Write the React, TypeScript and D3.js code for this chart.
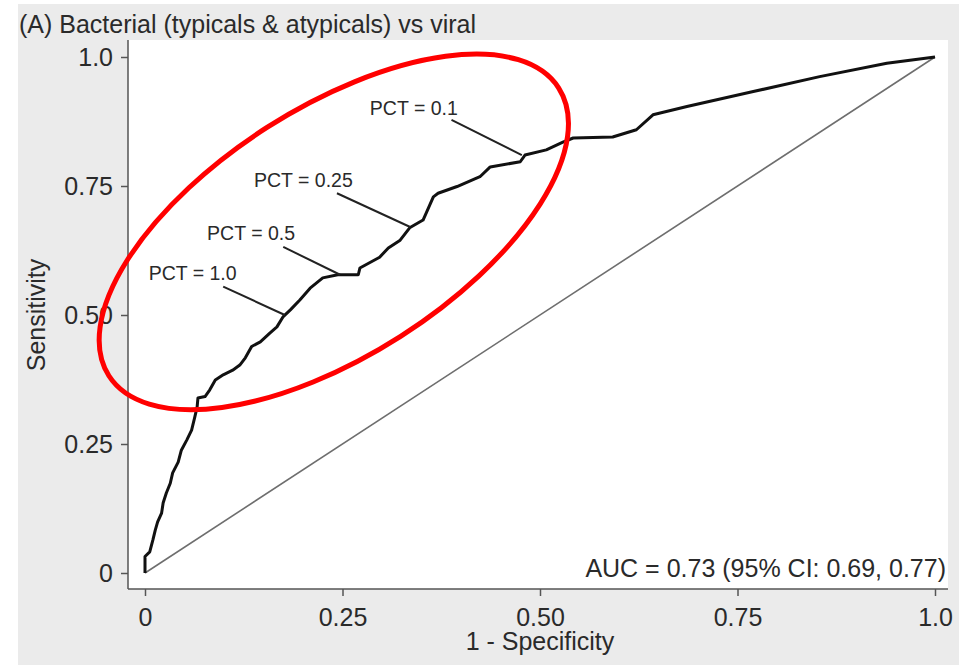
import { useEffect, useRef } from "react"
import * as d3 from "d3"

// ROC curve: false positive rate (1 - specificity) and sensitivity
const fpr = [0, 0, 0.006, 0.010, 0.013, 0.016, 0.021, 0.023, 0.027, 0.032, 0.035, 0.042, 0.046, 0.053, 0.059, 0.063, 0.066, 0.067, 0.076, 0.082, 0.089, 0.099, 0.111, 0.120, 0.127, 0.135, 0.146, 0.158, 0.167, 0.175, 0.184, 0.196, 0.209, 0.225, 0.244, 0.270, 0.272, 0.297, 0.308, 0.323, 0.335, 0.352, 0.365, 0.371, 0.395, 0.424, 0.437, 0.475, 0.481, 0.508, 0.529, 0.542, 0.592, 0.622, 0.643, 0.686, 0.770, 0.854, 0.939, 1]
const tpr = [0, 0.032, 0.041, 0.064, 0.083, 0.099, 0.116, 0.136, 0.155, 0.174, 0.194, 0.215, 0.238, 0.258, 0.277, 0.302, 0.322, 0.339, 0.342, 0.355, 0.374, 0.384, 0.393, 0.403, 0.417, 0.439, 0.448, 0.465, 0.477, 0.497, 0.510, 0.529, 0.552, 0.572, 0.578, 0.578, 0.591, 0.612, 0.630, 0.645, 0.669, 0.684, 0.729, 0.736, 0.749, 0.768, 0.787, 0.797, 0.810, 0.820, 0.835, 0.843, 0.845, 0.859, 0.888, 0.904, 0.933, 0.962, 0.988, 1]

const tickValues = [0, 0.25, 0.5, 0.75, 1]
const tickLabels = ["0", "0.25", "0.50", "0.75", "1.0"]

// PCT cut-off annotations: point on the curve, where the leader starts, where the label ends
const pctLabels = ["PCT = 0.1", "PCT = 0.25", "PCT = 0.5", "PCT = 1.0"]
const pctPointX = [0.477, 0.335, 0.247, 0.177]
const pctPointY = [0.810, 0.671, 0.578, 0.500]
const pctLeadX = [0.388, 0.243, 0.175, 0.099]
const pctLeadY = [0.878, 0.736, 0.632, 0.555]
const pctTextX = [0.396, 0.263, 0.190, 0.116]
const pctTextY = [0.888, 0.749, 0.645, 0.568]

const title = "(A) Bacterial (typicals & atypicals) vs viral"
const aucText = "AUC = 0.73 (95% CI: 0.69, 0.77)"

const FONT = "'Liberation Sans', Arial, Helvetica, sans-serif"
const TEXT = "#2a2a2a"

const RocChart = () => {
  const svgRef = useRef<SVGSVGElement>(null)

  useEffect(() => {
    const width = 959
    const height = 665
    const svg = d3.select(svgRef.current)
    svg.selectAll("*").remove()

    //plot frame in pixels
    const frame = { left: 128, top: 40, right: 948, bottom: 589 }

    const x = d3.scaleLinear().domain([0, 1]).range([145, 935])
    const y = d3.scaleLinear().domain([0, 1]).range([573, 57])

    //gray page and white plot region
    svg.append("rect").attr("x", 18).attr("y", 4).attr("width", width - 18).attr("height", height - 4).attr("fill", "#ebebeb")
    svg.append("rect")
      .attr("x", frame.left).attr("y", frame.top)
      .attr("width", frame.right - frame.left).attr("height", frame.bottom - frame.top)
      .attr("fill", "#ffffff")

    svg.append("text")
      .attr("x", 19).attr("y", 33)
      .attr("font-family", FONT).attr("font-size", 25).attr("fill", TEXT)
      .text(title)

    //axes
    const xAxis = svg.append("g")
      .attr("transform", `translate(0, ${frame.bottom})`)
      .call(d3.axisBottom(x).tickValues(tickValues).tickSize(7).tickPadding(12)
        .tickFormat((d, i) => tickLabels[i]))
    const yAxis = svg.append("g")
      .attr("transform", `translate(${frame.left}, 0)`)
      .call(d3.axisLeft(y).tickValues(tickValues).tickSize(7).tickPadding(8)
        .tickFormat((d, i) => tickLabels[i]))

    for (const ax of [xAxis, yAxis]) {
      ax.select(".domain").remove()
      ax.selectAll("line").attr("stroke", "#555").attr("stroke-width", 1.5)
      ax.selectAll("text").attr("font-family", FONT).attr("font-size", 25).attr("fill", TEXT)
    }
    yAxis.selectAll("text").attr("dy", "0.33em")

    svg.append("line")
      .attr("x1", frame.left).attr("x2", frame.left)
      .attr("y1", frame.top).attr("y2", frame.bottom)
      .attr("stroke", "#555").attr("stroke-width", 1.5)
    svg.append("line")
      .attr("x1", frame.left).attr("x2", frame.right)
      .attr("y1", frame.bottom).attr("y2", frame.bottom)
      .attr("stroke", "#555").attr("stroke-width", 1.5)

    //axis titles
    svg.append("text")
      .attr("x", x(0.5)).attr("y", 650)
      .attr("text-anchor", "middle")
      .attr("font-family", FONT).attr("font-size", 25).attr("fill", TEXT)
      .text("1 - Specificity")
    svg.append("text")
      .attr("transform", `translate(45, ${y(0.5)}) rotate(-90)`)
      .attr("text-anchor", "middle")
      .attr("font-family", FONT).attr("font-size", 25).attr("fill", TEXT)
      .text("Sensitivity")

    //reference diagonal
    svg.append("line")
      .attr("x1", x(0)).attr("y1", y(0))
      .attr("x2", x(1)).attr("y2", y(1))
      .attr("stroke", "#6e6e6e").attr("stroke-width", 1.6)

    //ROC curve
    const points: [number, number][] = fpr.map((f, i) => [f, tpr[i]])
    const line = d3.line<[number, number]>()
      .x(d => x(d[0]))
      .y(d => y(d[1]))
    svg.append("path")
      .datum(points)
      .attr("fill", "none")
      .attr("stroke", "#111")
      .attr("stroke-width", 3)
      .attr("stroke-linejoin", "round")
      .attr("d", line)

    //PCT annotations
    pctLabels.forEach((label, i) => {
      svg.append("line")
        .attr("x1", x(pctLeadX[i])).attr("y1", y(pctLeadY[i]))
        .attr("x2", x(pctPointX[i])).attr("y2", y(pctPointY[i]))
        .attr("stroke", "#222").attr("stroke-width", 2)
      svg.append("text")
        .attr("x", x(pctTextX[i])).attr("y", y(pctTextY[i]))
        .attr("text-anchor", "end")
        .attr("font-family", FONT).attr("font-size", 19.5).attr("fill", TEXT)
        .text(label)
    })

    svg.append("text")
      .attr("x", 946).attr("y", 577)
      .attr("text-anchor", "end")
      .attr("font-family", FONT).attr("font-size", 25).attr("fill", TEXT)
      .text(aucText)

    //red highlight ellipse around the PCT cut-offs
    const cx = x(0.239)
    const cy = y(0.661)
    svg.append("ellipse")
      .attr("cx", 0).attr("cy", 0)
      .attr("rx", 267).attr("ry", 124)
      .attr("transform", `translate(${cx}, ${cy}) rotate(-32.6)`)
      .attr("fill", "none")
      .attr("stroke", "#ff0000")
      .attr("stroke-width", 5)
  }, [])

  return (
    <svg ref={svgRef} width={959} height={665} style={{ position: "absolute", left: 0, top: 0, background: "#ffffff" }}>
    </svg>
  )
}

export default function App() {
  return <RocChart />
}
